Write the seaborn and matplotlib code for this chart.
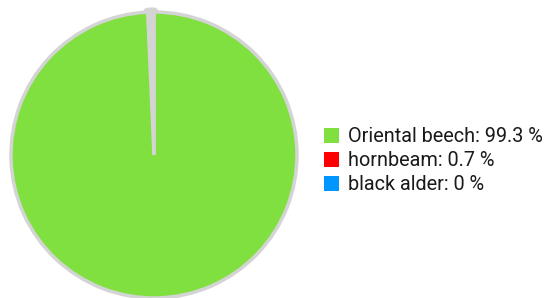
import pandas as pd
import seaborn as sns
import matplotlib.pyplot as plt
from matplotlib.patches import Patch, Circle

species = ["Oriental beech", "hornbeam", "black alder"]
share = [99.3, 0.7, 0.0]
colors = ["#80e040", "#ff0000", "#0096ff"]

df = pd.DataFrame({"species": species, "share": share, "color": colors})

sns.set_style("white")
plt.rcParams['font.family'] = ['Roboto', 'DejaVu Sans']

fig = plt.figure(figsize=(5.45, 2.98), dpi=100)
ax = fig.add_axes([11 / 545, 0.0, 286 / 545, 286 / 298])
wedges, _ = ax.pie(df.share, colors=df.color, startangle=90, counterclock=False,
                   wedgeprops={"edgecolor": "#d4d4d4", "linewidth": 2.5})
# the tiny hornbeam slice is swallowed by its grey outline
rim = Circle((0, 0), 1.0, transform=ax.transData)
wedges[1].set_linewidth(6.5)
wedges[1].set_joinstyle("round")
wedges[1].set_clip_path(rim)
wedges[1].set_zorder(wedges[0].get_zorder() - 0.1)
ax.set_xlim(-1, 1)
ax.set_ylim(-1, 1)
ax.set_aspect("equal")
ax.axis("off")

handles = [Patch(facecolor=c, edgecolor="none") for c in df.color]
labels = [f"{s}: {v:g} %" for s, v in zip(df.species, df.share)]
fig.legend(handles, labels, loc="center left", bbox_to_anchor=(324 / 545, 0.46),
           frameon=False, fontsize=14.3, handlelength=0.75, handleheight=0.75,
           handletextpad=0.45, labelspacing=0.25, borderpad=0, borderaxespad=0,
           labelcolor="#1a1a1a")

fig.savefig("out.png", dpi=100)
